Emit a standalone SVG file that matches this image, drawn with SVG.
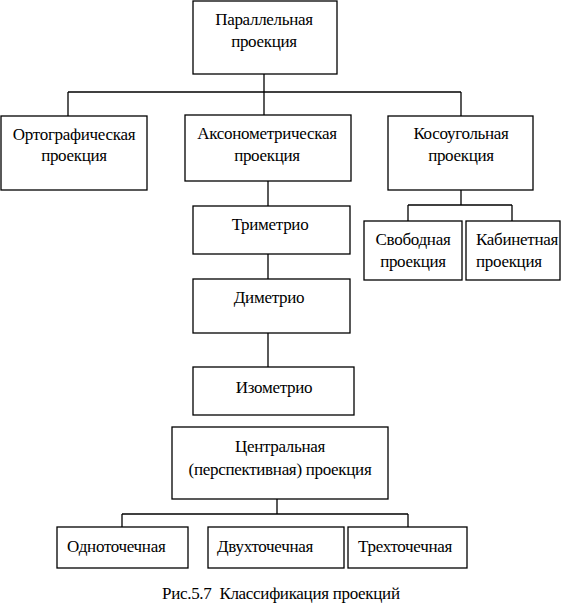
<svg xmlns="http://www.w3.org/2000/svg" width="570" height="613" viewBox="0 0 570 613">
<style>
rect{fill:#fff;stroke:#000;stroke-width:1.3}
.c line{stroke:#000;stroke-width:1.3}
text{font-family:"Liberation Serif","Times New Roman",serif;font-size:17px;fill:#000;letter-spacing:-0.3px}
.m{text-anchor:middle}
</style>
<rect x="0" y="0" width="570" height="613" style="stroke:none"/>
<g class="c" id="connectors">
<line x1="264" y1="74" x2="264" y2="115"/>
<line x1="68" y1="92" x2="461" y2="92"/>
<line x1="68" y1="92" x2="68" y2="116"/>
<line x1="461" y1="92" x2="461" y2="116"/>
<line x1="268" y1="181" x2="268" y2="206"/>
<line x1="268" y1="254" x2="268" y2="279"/>
<line x1="268" y1="333" x2="268" y2="367"/>
<line x1="461" y1="190" x2="461" y2="205"/>
<line x1="408" y1="205" x2="512" y2="205"/>
<line x1="408" y1="205" x2="408" y2="221"/>
<line x1="512" y1="205" x2="512" y2="221"/>
<line x1="277" y1="499" x2="277" y2="514"/>
<line x1="122" y1="514" x2="408" y2="514"/>
<line x1="122" y1="514" x2="122" y2="527"/>
<line x1="408" y1="514" x2="408" y2="527"/>
</g>
<g id="n-parallel"><rect x="193" y="1" width="144" height="73"/><text class="m" x="264" y="25">Параллельная</text><text class="m" x="264" y="47">проекция</text></g>
<g id="n-ortho"><rect x="1" y="116" width="146" height="74"/><text class="m" x="74" y="140">Ортографическая</text><text class="m" x="74" y="161">проекция</text></g>
<g id="n-axono"><rect x="185" y="115" width="166" height="66"/><text class="m" x="267" y="139">Аксонометрическая</text><text class="m" x="267" y="161">проекция</text></g>
<g id="n-oblique"><rect x="388" y="116" width="145" height="74"/><text class="m" x="461" y="139">Косоугольная</text><text class="m" x="461" y="161">проекция</text></g>
<g id="n-trimetric"><rect x="193" y="206" width="157" height="48"/><text class="m" x="270" y="230">Триметрио</text></g>
<g id="n-dimetric"><rect x="193" y="279" width="157" height="54"/><text class="m" x="269" y="303">Диметрио</text></g>
<g id="n-isometric"><rect x="193" y="367" width="161" height="48"/><text class="m" x="274" y="393">Изометрио</text></g>
<g id="n-free"><rect x="364" y="221" width="98" height="59"/><text class="m" x="413" y="245">Свободная</text><text class="m" x="413" y="267">проекция</text></g>
<g id="n-cabinet"><rect x="466" y="221" width="94" height="59"/><text x="476" y="245">Кабинетная</text><text x="476" y="267">проекция</text></g>
<g id="n-central"><rect x="172" y="427" width="216" height="72"/><text class="m" x="280" y="452">Центральная</text><text class="m" x="280" y="475">(перспективная) проекция</text></g>
<g id="n-one"><rect x="57" y="527" width="131" height="41"/><text x="67" y="552">Одноточечная</text></g>
<g id="n-two"><rect x="208" y="527" width="136" height="41"/><text x="217" y="552">Двухточечная</text></g>
<g id="n-three"><rect x="348" y="527" width="119" height="41"/><text x="358" y="552">Трехточечная</text></g>
<text id="caption" x="162" y="599">Рис.5.7&#160; Классификация проекций</text>
</svg>
